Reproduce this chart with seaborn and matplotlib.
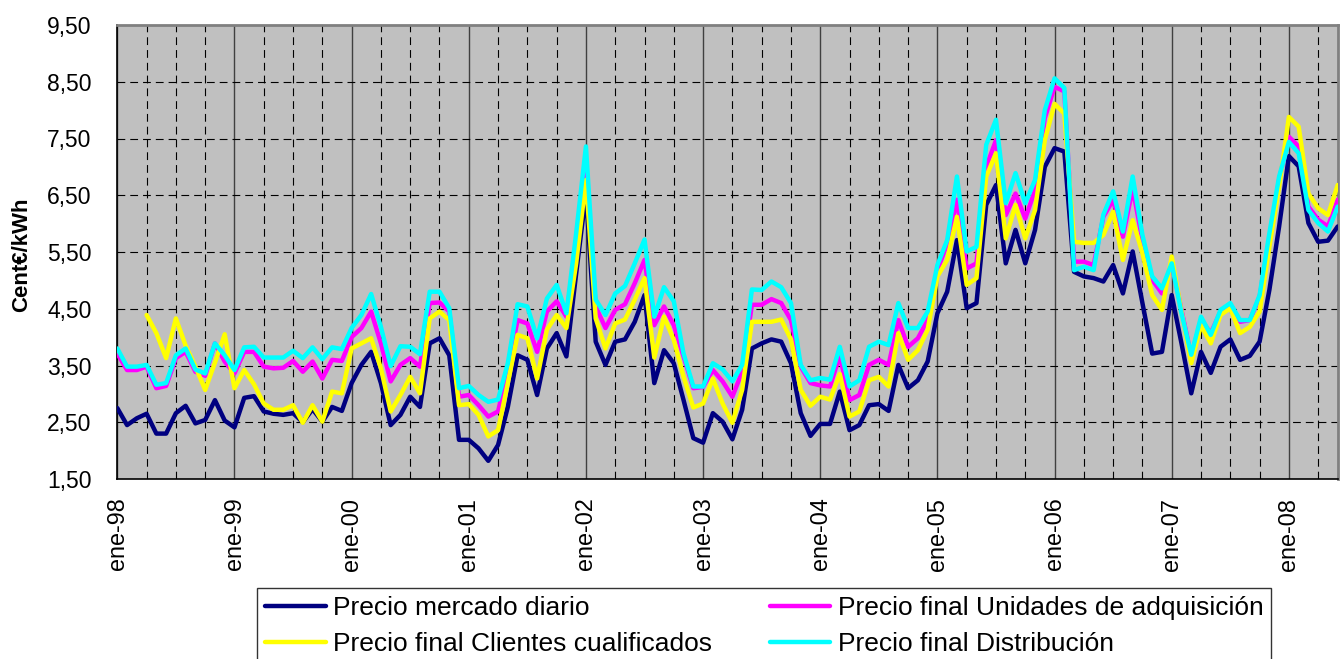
import numpy as np
import pandas as pd
import matplotlib
matplotlib.use("Agg")
import matplotlib.pyplot as plt
from matplotlib.lines import Line2D
from matplotlib.ticker import FixedLocator, FuncFormatter
import seaborn as sns

# Monthly prices, Jan 1998 - Jun 2008 (cent EUR / kWh)
mercado_diario = [
    2.75, 2.45, 2.57, 2.65, 2.30, 2.30, 2.66, 2.79, 2.48, 2.54, 2.89, 2.53,  # 1998
    2.41, 2.93, 2.96, 2.69, 2.65, 2.63, 2.66, 2.50, 2.73, 2.51, 2.77, 2.70,  # 1999
    3.19, 3.51, 3.74, 3.19, 2.45, 2.63, 2.95, 2.77, 3.89, 3.98, 3.68, 2.19,  # 2000
    2.19, 2.04, 1.82, 2.10, 2.77, 3.68, 3.60, 2.98, 3.80, 4.07, 3.66, 5.12,  # 2001
    6.53, 3.92, 3.51, 3.92, 3.96, 4.27, 4.74, 3.19, 3.77, 3.54, 2.89, 2.22,  # 2002
    2.14, 2.66, 2.51, 2.20, 2.72, 3.80, 3.89, 3.96, 3.92, 3.54, 2.66, 2.26,  # 2003
    2.47, 2.47, 3.04, 2.36, 2.45, 2.80, 2.82, 2.70, 3.51, 3.10, 3.24, 3.57,  # 2004
    4.42, 4.80, 5.71, 4.51, 4.60, 6.33, 6.68, 5.30, 5.89, 5.30, 5.89, 7.00,  # 2005
    7.33, 7.27, 5.15, 5.07, 5.04, 4.98, 5.27, 4.77, 5.51, 4.60, 3.71, 3.74,  # 2006
    4.74, 3.89, 3.01, 3.74, 3.37, 3.83, 3.96, 3.60, 3.67, 3.92, 4.83, 5.95,  # 2007
    7.19, 7.01, 6.01, 5.68, 5.70, 5.95,                                      # 2008
]

unidades_adquisicion = [
    3.71, 3.42, 3.42, 3.48, 3.10, 3.14, 3.63, 3.74, 3.39, 3.32, 3.89, 3.57,
    3.36, 3.74, 3.74, 3.48, 3.45, 3.46, 3.58, 3.39, 3.57, 3.27, 3.60, 3.58,
    4.00, 4.16, 4.45, 3.89, 3.22, 3.51, 3.63, 3.48, 4.60, 4.61, 4.45, 2.95,
    2.98, 2.80, 2.60, 2.69, 3.42, 4.30, 4.24, 3.74, 4.45, 4.63, 4.36, 5.59,
    6.94, 4.54, 4.16, 4.48, 4.58, 4.95, 5.36, 4.21, 4.54, 4.21, 3.66, 3.10,
    3.12, 3.42, 3.22, 2.95, 3.39, 4.57, 4.57, 4.67, 4.60, 4.30, 3.48, 3.19,
    3.15, 3.13, 3.68, 2.89, 2.98, 3.51, 3.60, 3.51, 4.30, 3.83, 3.98, 4.30,
    5.18, 5.65, 6.42, 5.21, 5.30, 7.00, 7.47, 6.15, 6.53, 6.09, 6.59, 7.86,
    8.41, 8.33, 5.33, 5.33, 5.27, 6.12, 6.42, 5.77, 6.62, 5.71, 5.01, 4.77,
    5.30, 4.48, 3.66, 4.30, 4.07, 4.45, 4.57, 4.27, 4.30, 4.71, 5.71, 6.77,
    7.53, 7.36, 6.30, 6.07, 5.95, 6.42,
]

clientes_cualificados = [
    np.nan, np.nan, np.nan, 4.39, 4.07, 3.63, 4.33, 3.85, 3.48, 3.07, 3.55, 4.05,
    3.10, 3.42, 3.17, 2.83, 2.72, 2.72, 2.80, 2.49, 2.80, 2.51, 3.04, 3.01,
    3.80, 3.89, 3.98, 3.45, 2.69, 2.98, 3.30, 3.01, 4.33, 4.45, 4.30, 2.80,
    2.82, 2.63, 2.25, 2.36, 3.19, 4.04, 3.98, 3.27, 4.13, 4.39, 4.16, 5.30,
    6.77, 4.33, 3.80, 4.24, 4.31, 4.66, 5.04, 3.64, 4.36, 3.95, 3.30, 2.76,
    2.83, 3.27, 2.83, 2.49, 3.07, 4.27, 4.27, 4.27, 4.31, 3.96, 3.07, 2.79,
    2.95, 2.90, 3.35, 2.60, 2.69, 3.24, 3.30, 3.13, 4.07, 3.60, 3.77, 4.13,
    5.07, 5.36, 6.12, 4.92, 5.04, 6.83, 7.24, 5.74, 6.33, 5.74, 6.24, 7.47,
    8.11, 7.94, 5.68, 5.66, 5.66, 5.80, 6.21, 5.36, 6.06, 5.48, 4.74, 4.48,
    5.42, 4.45, 3.54, 4.21, 3.89, 4.39, 4.51, 4.07, 4.18, 4.45, 5.59, 6.65,
    7.88, 7.71, 6.53, 6.27, 6.15, 6.68,
]

distribucion = [
    3.80, 3.48, 3.48, 3.51, 3.16, 3.19, 3.68, 3.80, 3.43, 3.36, 3.89, 3.68,
    3.42, 3.82, 3.83, 3.64, 3.64, 3.64, 3.76, 3.63, 3.82, 3.61, 3.82, 3.79,
    4.16, 4.39, 4.76, 4.18, 3.49, 3.84, 3.83, 3.70, 4.80, 4.80, 4.51, 3.10,
    3.14, 2.98, 2.86, 2.90, 3.54, 4.58, 4.54, 3.98, 4.68, 4.92, 4.42, 5.83,
    7.36, 4.66, 4.39, 4.77, 4.90, 5.30, 5.72, 4.36, 4.88, 4.63, 3.71, 3.13,
    3.13, 3.54, 3.43, 3.22, 3.51, 4.84, 4.83, 4.98, 4.88, 4.60, 3.51, 3.24,
    3.28, 3.25, 3.83, 3.13, 3.24, 3.83, 3.92, 3.86, 4.60, 4.16, 4.16, 4.45,
    5.27, 5.71, 6.83, 5.51, 5.59, 7.39, 7.83, 6.36, 6.89, 6.36, 6.77, 8.00,
    8.56, 8.39, 5.18, 5.24, 5.18, 6.16, 6.57, 5.86, 6.83, 5.80, 5.07, 4.86,
    5.30, 4.42, 3.69, 4.36, 4.04, 4.48, 4.60, 4.30, 4.30, 4.74, 5.83, 6.83,
    7.44, 7.24, 6.24, 6.01, 5.86, 6.30,
]

series_names = [
    "Precio mercado diario",
    "Precio final Unidades de adquisición",
    "Precio final Clientes cualificados",
    "Precio final Distribución",
]
series_values = [mercado_diario, unidades_adquisicion, clientes_cualificados, distribucion]
series_colors = ["#000080", "#FF00FF", "#FFFF00", "#00FFFF"]

years = ["98", "99", "00", "01", "02", "03", "04", "05", "06", "07", "08"]
y_ticks = [1.5, 2.5, 3.5, 4.5, 5.5, 6.5, 7.5, 8.5, 9.5]

# long table for seaborn, x = month index from Jan 1998
frames = []
for name, vals in zip(series_names, series_values):
    frames.append(pd.DataFrame({"mes": np.arange(len(vals)), "precio": vals, "serie": name}))
df = pd.concat(frames, ignore_index=True).dropna()

sns.set_style("white")
plt.rcParams["font.family"] = ["Liberation Sans", "DejaVu Sans"]
plt.rcParams["text.color"] = "black"
plt.rcParams["xtick.color"] = "black"
plt.rcParams["ytick.color"] = "black"

fig = plt.figure(figsize=(13.44, 6.59), dpi=100)
ax = fig.add_axes([117.3 / 1344, 1 - 479 / 659, (1337.7 - 117.3) / 1344, (479 - 25) / 659])
ax.set_facecolor("#C0C0C0")

sns.lineplot(data=df, x="mes", y="precio", hue="serie", hue_order=series_names,
             palette=dict(zip(series_names, series_colors)), estimator=None, sort=False,
             linewidth=3.2, legend=False, ax=ax, zorder=3)

n_months = len(mercado_diario)
ax.set_xlim(0, n_months - 1)
ax.set_ylim(1.5, 9.5)

# grid: solid at years, dashed at quarters, dashed horizontals
dash = (0, (7, 4.5))
for m in range(0, n_months, 3):
    if m % 12 == 0:
        ax.axvline(m, color="#404040", lw=1.0, zorder=1)
    else:
        ax.axvline(m, color="black", lw=0.8, ls=dash, zorder=1)
for y in y_ticks[1:-1]:
    ax.axhline(y, color="black", lw=0.8, ls=dash, zorder=1)

ax.xaxis.set_major_locator(FixedLocator(list(range(0, n_months, 12))))
ax.xaxis.set_minor_locator(FixedLocator([m for m in range(0, n_months, 3) if m % 12]))
ax.set_xticklabels(["ene-" + y for y in years], rotation=90, fontsize=16.8)
ax.set_yticks(y_ticks)
ax.yaxis.set_major_formatter(FuncFormatter(lambda v, p: f"{v:.2f}".replace(".", ",")))
ax.tick_params(axis="y", labelsize=16.5, length=5, width=1, direction="out", pad=13.5)
ax.tick_params(axis="x", which="major", length=5, width=1, direction="out", pad=8.5)
ax.tick_params(axis="x", which="minor", length=4, width=1, direction="in")
ax.set_xlabel("")
ax.set_ylabel("")

for side in ["left", "bottom"]:
    ax.spines[side].set_color("black")
    ax.spines[side].set_linewidth(1.2)
for side in ["top", "right"]:
    ax.spines[side].set_color("#808080")
    ax.spines[side].set_linewidth(2)

fig.text(22 / 1344, 1 - 255 / 659, "Cent€/kWh", rotation=90, fontsize=16, fontweight="bold",
         ha="center", va="center")

# legend filled row-wise like the original (matplotlib fills by column)
order = [0, 2, 1, 3]
handles = [Line2D([], [], color=series_colors[i], lw=3.2) for i in order]
labels = [series_names[i] for i in order]
leg = fig.legend(handles, labels, ncol=2, loc="upper left",
                 bbox_to_anchor=(257 / 1344, 1 - 588 / 659), borderaxespad=0,
                 fontsize=19, frameon=True, fancybox=False, edgecolor="black",
                 handlelength=2.3, handletextpad=0.27, columnspacing=2.2,
                 labelspacing=0.45, borderpad=0.3)
leg.get_frame().set_linewidth(1.0)

fig.savefig("out.png", dpi=100, facecolor="white")
